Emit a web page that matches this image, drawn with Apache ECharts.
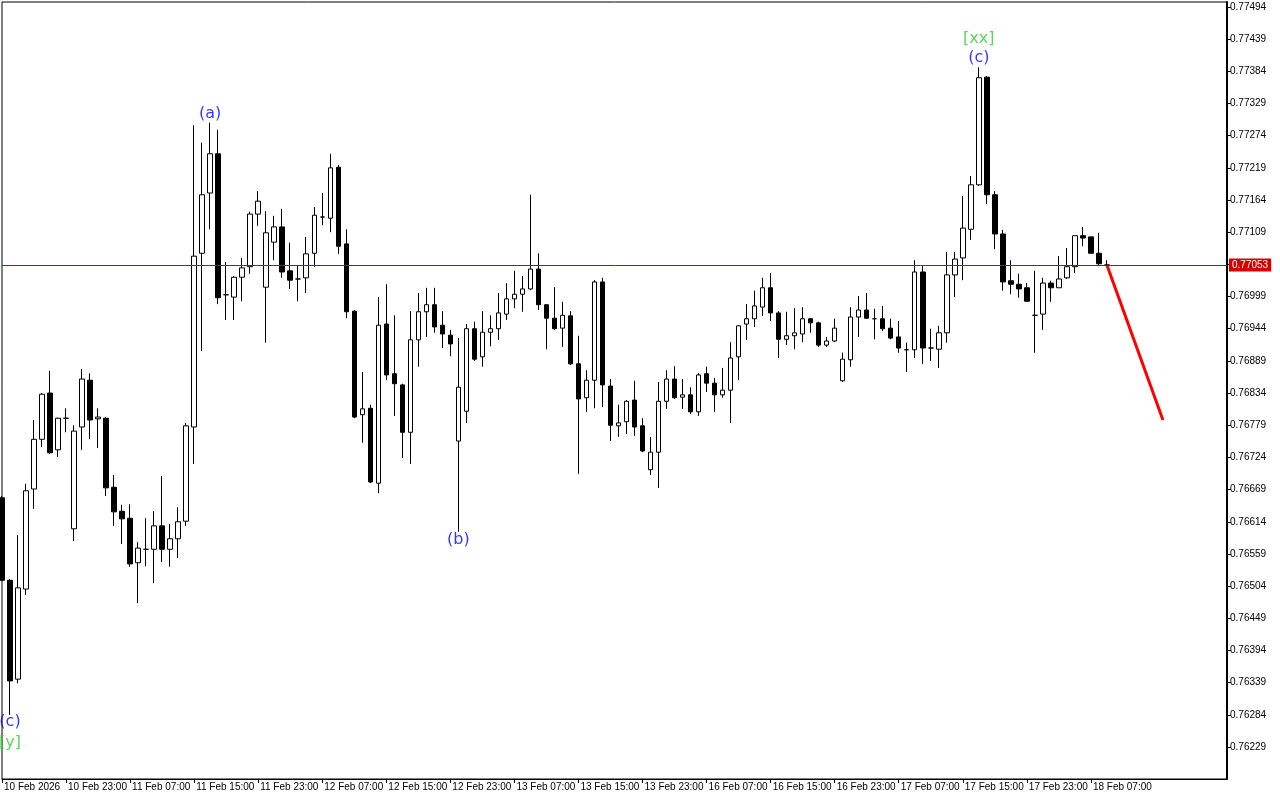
<!DOCTYPE html>
<html>
<head>
<meta charset="utf-8">
<script src="https://cdn.jsdelivr.net/npm/echarts@6/dist/echarts.min.js"></script>
<style>
html,body{margin:0;padding:0;background:#fff;}
#chart{width:1280px;height:800px;}
</style>
</head>
<body>
<div id="chart"></div>
<script>
// ---- Data (H1 candles, 10 Feb 2026 15:00 onward) ----
const opens = [
0.76655,0.76514,0.76345,0.76499,0.76670,0.76755,0.76834,0.76737,0.76791,0.76602,
0.76776,0.76856,0.76790,0.76791,0.76673,0.76632,0.76620,0.76544,0.76567,0.76567,
0.76607,0.76567,0.76585,0.76615,0.76776,0.77073,0.77176,0.77243,0.77002,0.76998,
0.77032,0.77050,0.77140,0.77015,0.77092,0.77118,0.77043,0.77029,0.77031,0.77073,
0.77135,0.77133,0.77220,0.77089,0.76974,0.76797,0.76808,0.76680,0.76952,0.76867,
0.76848,0.76767,0.76925,0.76973,0.76985,0.76950,0.76933,0.76752,0.76803,0.76944,
0.76896,0.76938,0.76944,0.76969,0.76995,0.77003,0.77012,0.77046,0.76985,0.76962,
0.76945,0.76966,0.76884,0.76826,0.76856,0.77024,0.76846,0.76778,0.76785,0.76822,
0.76778,0.76703,0.76733,0.76820,0.76858,0.76827,0.76831,0.76802,0.76867,0.76851,
0.76831,0.76839,0.76896,0.76952,0.76961,0.76981,0.77014,0.76971,0.76926,0.76932,
0.76935,0.76961,0.76954,0.76916,0.76923,0.76855,0.76891,0.76964,0.76976,0.76961,
0.76961,0.76945,0.76930,0.76908,0.76908,0.77041,0.76911,0.76909,0.76937,0.77036,
0.77065,0.77114,0.77190,0.77374,0.77173,0.77106,0.77026,0.77020,0.77014,0.76967,
0.76969,0.77022,0.77014,0.77031,0.77050,0.77103,0.77101,0.77073,0.77053
];
const closes = [
0.76514,0.76342,0.76501,0.76667,0.76755,0.76832,0.76732,0.76791,0.76791,0.76769,
0.76858,0.76788,0.76793,0.76672,0.76631,0.76619,0.76542,0.76569,0.76567,0.76607,
0.76567,0.76585,0.76614,0.76778,0.77068,0.77173,0.77243,0.76997,0.77002,0.77032,
0.77048,0.77140,0.77162,0.77108,0.77118,0.77041,0.77027,0.77029,0.77072,0.77138,
0.77135,0.77219,0.77085,0.76973,0.76793,0.76807,0.76682,0.76950,0.76865,0.76850,
0.76767,0.76925,0.76973,0.76985,0.76947,0.76935,0.76918,0.76844,0.76944,0.76892,
0.76938,0.76944,0.76971,0.76995,0.77003,0.77012,0.77046,0.76985,0.76962,0.76944,
0.76967,0.76884,0.76824,0.76856,0.77024,0.76848,0.76779,0.76783,0.76820,0.76776,
0.76735,0.76733,0.76820,0.76858,0.76826,0.76831,0.76802,0.76865,0.76851,0.76831,
0.76839,0.76894,0.76949,0.76961,0.76983,0.77014,0.76971,0.76926,0.76932,0.76937,
0.76961,0.76954,0.76916,0.76923,0.76945,0.76892,0.76964,0.76976,0.76962,0.76961,
0.76944,0.76928,0.76911,0.76908,0.77041,0.76911,0.76911,0.76937,0.77036,0.77063,
0.77116,0.77190,0.77373,0.77173,0.77106,0.77024,0.77020,0.77012,0.76991,0.76967,
0.77022,0.77014,0.77029,0.77050,0.77103,0.77099,0.77073,0.77055,0.77053
];
const lows = [
0.76513,0.76284,0.76338,0.76489,0.76636,0.76742,0.76730,0.76725,0.76767,0.76581,
0.76737,0.76755,0.76740,0.76658,0.76607,0.76576,0.76537,0.76475,0.76538,0.76509,
0.76545,0.76537,0.76552,0.76607,0.76713,0.76906,0.77114,0.76986,0.76959,0.76959,
0.76991,0.77038,0.77120,0.76920,0.77061,0.77031,0.77012,0.76991,0.77005,0.77050,
0.77121,0.77109,0.77072,0.76962,0.76791,0.76749,0.76680,0.76663,0.76856,0.76795,
0.76723,0.76713,0.76879,0.76930,0.76937,0.76911,0.76897,0.76597,0.76783,0.76889,
0.76879,0.76914,0.76925,0.76959,0.76979,0.76973,0.77010,0.76976,0.76909,0.76942,
0.76913,0.76882,0.76696,0.76802,0.76808,0.76810,0.76752,0.76759,0.76764,0.76761,
0.76733,0.76694,0.76672,0.76807,0.76824,0.76807,0.76798,0.76795,0.76836,0.76802,
0.76826,0.76783,0.76856,0.76925,0.76947,0.76966,0.76957,0.76894,0.76916,0.76909,
0.76921,0.76937,0.76913,0.76913,0.76921,0.76853,0.76879,0.76930,0.76961,0.76926,
0.76940,0.76926,0.76903,0.76870,0.76894,0.76884,0.76889,0.76877,0.76920,0.76998,
0.77027,0.77096,0.77188,0.77157,0.77080,0.77009,0.77003,0.76997,0.76990,0.76903,
0.76942,0.76990,0.77014,0.77029,0.77039,0.77085,0.77073,0.77051,0.77053
];
const highs = [
0.76658,0.76516,0.76591,0.76679,0.76788,0.76834,0.76872,0.76792,0.76808,0.76779,
0.76875,0.76868,0.76808,0.76793,0.76694,0.76643,0.76644,0.76579,0.76620,0.76632,
0.76692,0.76610,0.76639,0.76783,0.77292,0.77262,0.77296,0.77284,0.77058,0.77034,
0.77065,0.77144,0.77179,0.77145,0.77137,0.77149,0.77091,0.77053,0.77101,0.77152,
0.77176,0.77243,0.77224,0.77114,0.76976,0.76870,0.76814,0.76998,0.77020,0.76967,
0.76850,0.76974,0.77005,0.77014,0.77014,0.76974,0.76942,0.76928,0.76952,0.76956,
0.76974,0.76967,0.77005,0.77022,0.77043,0.77034,0.77173,0.77073,0.76986,0.77015,
0.76990,0.76974,0.76932,0.76873,0.77027,0.77031,0.76858,0.76814,0.76822,0.76855,
0.76791,0.76759,0.76853,0.76873,0.76880,0.76858,0.76844,0.76868,0.76879,0.76860,
0.76877,0.76921,0.76950,0.76986,0.77009,0.77031,0.77039,0.76974,0.76973,0.76979,
0.76981,0.76962,0.76956,0.76930,0.76961,0.76903,0.76981,0.77000,0.77005,0.76978,
0.76983,0.76961,0.76957,0.76920,0.77061,0.77051,0.76944,0.76949,0.77075,0.77075,
0.77171,0.77205,0.77391,0.77376,0.77179,0.77113,0.77061,0.77038,0.77022,0.77043,
0.77031,0.77026,0.77068,0.77082,0.77103,0.77118,0.77101,0.77108,0.77061
];

const currentPrice = 0.77053;
const forecastBars = [138, 145];
const forecastPrices = [0.77053, 0.76788];

const waveTexts  = ['(a)', '(b)', '[xx]', '(c)', '(c)', '[y]'];
const waveBars   = [26, 57, 122, 122, 1, 1];
const wavePrices = [0.77311, 0.76583, 0.77439, 0.77407, 0.76272, 0.76236];
const waveColors = ['#0000ff', '#0000ff', '#32cd32', '#0000ff', '#0000ff', '#32cd32'];

const priceTicks = [
0.76229,0.76284,0.76339,0.76394,0.76449,0.76504,0.76559,0.76614,0.76669,0.76724,
0.76779,0.76834,0.76889,0.76944,0.76999,0.77054,0.77109,0.77164,0.77219,0.77274,
0.77329,0.77384,0.77439,0.77494
];
const timeTickLabels = [
'10 Feb 2026','10 Feb 23:00','11 Feb 07:00','11 Feb 15:00','11 Feb 23:00','12 Feb 07:00',
'12 Feb 15:00','12 Feb 23:00','13 Feb 07:00','13 Feb 15:00','13 Feb 23:00','16 Feb 07:00',
'16 Feb 15:00','16 Feb 23:00','17 Feb 07:00','17 Feb 15:00','17 Feb 23:00','18 Feb 07:00'
];
const labelStep = 8;
const totalSlots = 154;

// ---- Build categories (hourly bars, weekend skipped) ----
const categories = [];
{
  let t = Date.UTC(2026, 1, 10, 15, 0);
  while (categories.length < totalSlots) {
    const d = new Date(t);
    const wd = d.getUTCDay();
    if (wd !== 0 && wd !== 6) {
      const mon = ['Jan','Feb','Mar'][d.getUTCMonth()];
      categories.push(d.getUTCDate() + ' ' + mon + ' ' + String(d.getUTCHours()).padStart(2,'0') + ':00');
    }
    t += 3600000;
  }
}
const candleData = opens.map((o, i) => [o, closes[i], lows[i], highs[i]]);
const lastTickIdx = (timeTickLabels.length - 1) * labelStep;
const showTick = (i) => i % labelStep === 0 && i <= lastTickIdx;

const chart = echarts.init(document.getElementById('chart'), null, {renderer: 'canvas'});
chart.setOption({
  animation: false,
  backgroundColor: '#ffffff',
  textStyle: {fontFamily: 'Liberation Sans, Arial, sans-serif'},
  grid: {left: 2, top: 2, right: 53, bottom: 21, show: true, borderColor: '#000', borderWidth: 1, backgroundColor: '#fff'},
  xAxis: {
    type: 'category',
    data: categories,
    boundaryGap: false,
    axisLine: {show: true, lineStyle: {color: '#000', width: 1}},
    axisTick: {show: true, interval: showTick, length: 4, lineStyle: {color: '#000'}},
    axisLabel: {
      interval: showTick,
      formatter: (v, i) => timeTickLabels[i / labelStep] || '',
      align: 'left', fontSize: 10, color: '#000', margin: 3, padding: [0, 0, 0, 2]
    },
    splitLine: {show: false}
  },
  yAxis: {
    type: 'value',
    position: 'right',
    min: 0.761743,
    max: 0.775025,
    axisLine: {show: true, lineStyle: {color: '#000', width: 2}},
    axisTick: {show: true, length: 4, lineStyle: {color: '#000'}, customValues: priceTicks},
    axisLabel: {
      customValues: priceTicks.filter(v => Math.abs(v - currentPrice) > 0.0002),
      formatter: v => v.toFixed(5), fontSize: 10, color: '#000', margin: 3
    },
    splitLine: {show: false}
  },
  series: [
    {
      type: 'candlestick',
      data: candleData,
      barWidth: 5,
      clip: false,
      itemStyle: {color: '#ffffff', color0: '#000000', borderColor: '#000000', borderColor0: '#000000', borderWidth: 1},
      z: 3
    },
    {
      type: 'line',
      data: forecastBars.map((b, i) => [b, forecastPrices[i]]),
      symbol: 'none',
      lineStyle: {color: '#ff0000', width: 3},
      markLine: {
        silent: true,
        precision: 5,
        symbol: ['none', 'none'],
        lineStyle: {color: '#a01414', width: 1, type: 'solid'},
        label: {
          show: true, position: 'end', formatter: () => currentPrice.toFixed(5),
          backgroundColor: '#d40000', color: '#fff', fontSize: 10, padding: [2, 3, 1, 3], distance: 2
        },
        data: [{yAxis: currentPrice}]
      },
      z: 4
    },
    {
      type: 'scatter',
      symbolSize: 0,
      data: waveTexts.map((t, i) => ({
        value: [waveBars[i], wavePrices[i]],
        label: {show: true, position: 'inside', formatter: t, color: waveColors[i], fontSize: 16, fontFamily: 'DejaVu Sans'}
      })),
      z: 5
    }
  ]
});
</script>
</body>
</html>
